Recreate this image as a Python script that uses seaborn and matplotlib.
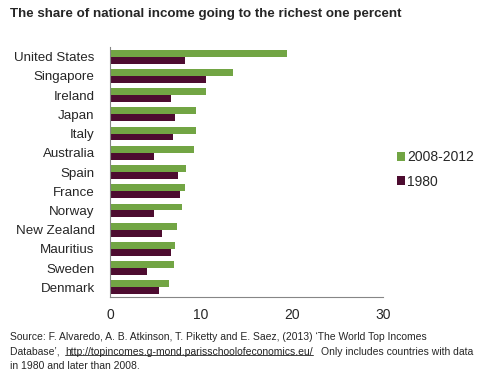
import matplotlib
matplotlib.use("Agg")
import matplotlib.pyplot as plt
import seaborn as sns
import pandas as pd
import numpy as np

countries = ["United States", "Singapore", "Ireland", "Japan", "Italy", "Australia",
             "Spain", "France", "Norway", "New Zealand", "Mauritius", "Sweden", "Denmark"]
recent = [19.5, 13.5, 10.5, 9.5, 9.4, 9.2, 8.3, 8.2, 7.9, 7.4, 7.2, 7.0, 6.5]
y1980 = [8.2, 10.6, 6.7, 7.2, 6.9, 4.8, 7.5, 7.7, 4.8, 5.7, 6.7, 4.1, 5.4]
series = ["2008-2012", "1980"]
xticks = [0, 10, 20, 30]

df = pd.DataFrame({
    "country": countries * 2,
    "value": recent + y1980,
    "period": [series[0]] * len(countries) + [series[1]] * len(countries),
})

sns.set_style("white")
plt.rcParams["font.family"] = ["Liberation Sans", "DejaVu Sans"]

fig = plt.figure(figsize=(4.93, 3.76), dpi=100)
ax = fig.add_axes([0.223, 0.21, 0.554, 0.665])

sns.barplot(data=df, y="country", x="value", hue="period", orient="h",
            order=countries, hue_order=series,
            palette={"2008-2012": "#72A544", "1980": "#4D0C30"},
            width=0.72, saturation=1, linewidth=0, ax=ax, legend=True)

ax.set_xlim(0, 30)
ax.set_xticks(xticks)
ax.set_xticklabels([str(t) for t in xticks], fontsize=10)
ax.set_ylim(len(countries) - 0.5, -0.5)
ax.set_xlabel("")
ax.set_ylabel("")
ax.tick_params(axis="y", length=0, labelsize=9.6, pad=11)
ax.tick_params(axis="x", length=4, color="#868686", direction="out", pad=4, labelsize=10)
for s in ["top", "right"]:
    ax.spines[s].set_visible(False)
for s in ["left", "bottom"]:
    ax.spines[s].set_color("#868686")
    ax.spines[s].set_linewidth(0.8)
ax.set_yticks(np.arange(-0.5, len(countries), 1), minor=True)
ax.tick_params(axis="y", which="minor", length=4, color="#868686", direction="out")

leg = ax.legend(loc="center left", bbox_to_anchor=(1.03, 0.51), frameon=False,
                fontsize=10, handlelength=0.6, handleheight=0.6, handletextpad=0.15,
                labelspacing=0.75, borderaxespad=0)

fig.text(0.02, 0.978, "The share of national income going to the richest one percent",
         fontsize=9.6, fontweight="bold", va="top", ha="left")

fs = 7.5
x0 = 0.02
y1, y2, y3 = 0.118, 0.078, 0.040
fig.text(x0, y1, "Source: F. Alvaredo, A. B. Atkinson, T. Piketty and E. Saez, (2013) \u2018The World Top Incomes",
         fontsize=fs, va="top", ha="left")
t_db = fig.text(x0, y2, "Database\u2019, ", fontsize=fs, va="top", ha="left")
fig.canvas.draw()
inv = fig.transFigure.inverted()
bb_db = t_db.get_window_extent().transformed(inv)
t_url = fig.text(bb_db.x1 + 0.006, y2, "http://topincomes.g-mond.parisschoolofeconomics.eu/",
                 fontsize=fs, va="top", ha="left", color="#222222")
fig.canvas.draw()
bb = t_url.get_window_extent().transformed(inv)
fig.text(bb.x1 + 0.016, y2, "Only includes countries with data", fontsize=fs, va="top", ha="left")
fig.text(x0, y3, "in 1980 and later than 2008.", fontsize=fs, va="top", ha="left")
fig.add_artist(plt.Line2D([bb.x0, bb.x1], [bb.y0 + 0.004, bb.y0 + 0.004],
                          transform=fig.transFigure, color="#222222", linewidth=0.6))

fig.savefig("out.png", dpi=100)
